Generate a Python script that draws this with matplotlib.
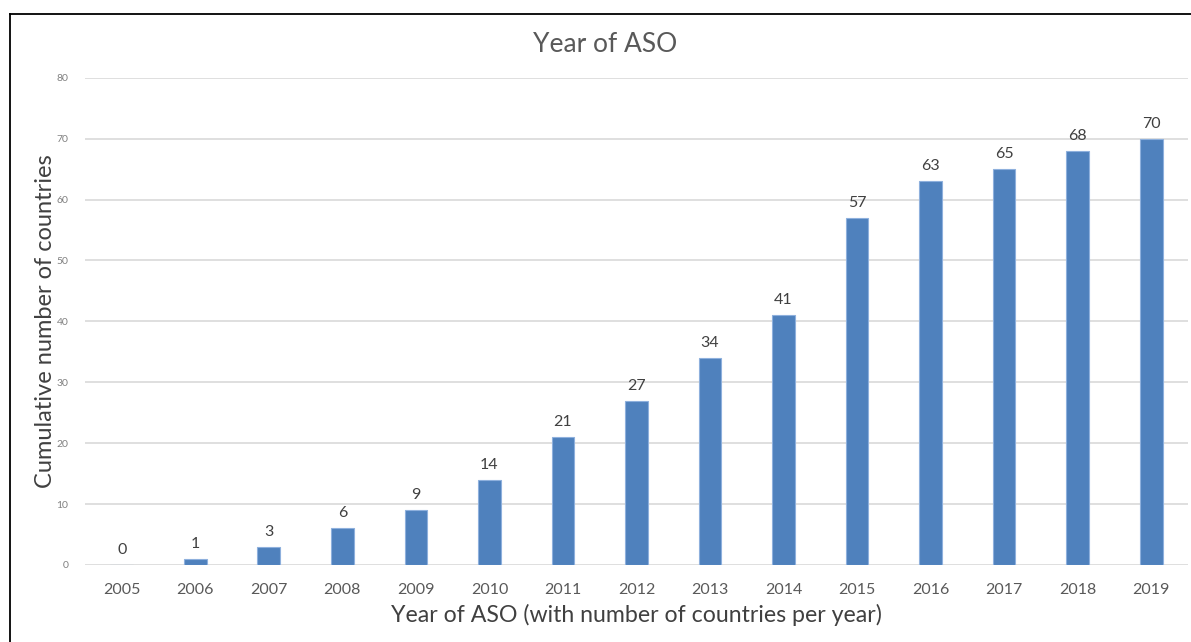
import matplotlib
matplotlib.use("Agg")
import matplotlib.pyplot as plt
from matplotlib.lines import Line2D

# cumulative count of countries completing analogue switch-off
years = ['2005', '2006', '2007', '2008', '2009', '2010', '2011', '2012',
         '2013', '2014', '2015', '2016', '2017', '2018', '2019']
countries = [0, 1, 3, 6, 9, 14, 21, 27, 34, 41, 57, 63, 65, 68, 70]

plt.rcParams['font.family'] = ['Lato', 'DejaVu Sans']

fig = plt.figure(figsize=(11.91, 6.42), dpi=100)
ax = fig.add_axes([0.0714, 0.12, 0.926, 0.759])

x = range(len(years))
bars = ax.bar(x, countries, width=0.31, color='#4F81BD', edgecolor='#8EB0DD',
              linewidth=0.8, zorder=3)

for xi, v in zip(x, countries):
    ax.text(xi, v + 1.3, str(v), ha='center', va='bottom', fontsize=11.5,
            color='#404040')

ax.set_xlim(-0.5, len(years) - 0.5)
ax.set_ylim(0, 80)
ax.set_yticks(range(0, 81, 10))
ax.set_xticks(list(x))
ax.set_xticklabels(years)
ax.tick_params(axis='y', length=0, labelsize=7.5, labelcolor='#808080', pad=12)
ax.tick_params(axis='x', length=0, labelsize=11.5, labelcolor='#595959', pad=13)
ax.yaxis.grid(True, color='#D9D9D9', linewidth=1.2, zorder=0)
for s in ax.spines.values():
    s.set_visible(False)

fig.text(0.508, 0.931, 'Year of ASO', ha='center', va='center', fontsize=19,
         color='#595959')
ax.set_xlabel('Year of ASO (with number of countries per year)', fontsize=16.7,
              color='#404040', labelpad=5)
ax.set_ylabel('Cumulative number of countries', fontsize=17, color='#404040',
              labelpad=0)

# frame lines around the chart area
fig.add_artist(Line2D([0.008, 1.0], [0.978, 0.978], color='black', lw=1.3))
fig.add_artist(Line2D([0.008, 0.008], [0.0, 0.978], color='black', lw=1.3))

fig.savefig('out.png', dpi=100)
